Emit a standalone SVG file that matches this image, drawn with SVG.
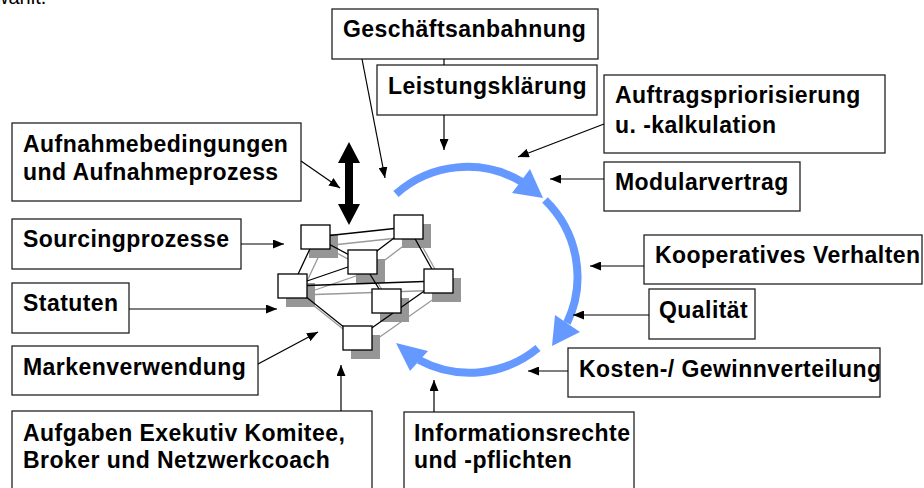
<svg xmlns="http://www.w3.org/2000/svg" width="924" height="488" viewBox="0 0 924 488">
<defs>
<marker id="ah" markerUnits="userSpaceOnUse" markerWidth="11" markerHeight="9" refX="11" refY="4.5" orient="auto">
<path d="M0,0 L11,4.5 L0,9 z" fill="#000"/>
</marker>
<style>
.box{fill:#fff;stroke:#222;stroke-width:1.3}
.t{font-family:"Liberation Sans",Arial,sans-serif;font-weight:bold;font-size:23px;letter-spacing:0.45px;fill:#000}
.c{stroke:#000;stroke-width:1.2;fill:none;marker-end:url(#ah)}
.arc{stroke:#6699ff;stroke-width:8;fill:none}
.ahb{fill:#6699ff}
.sl{stroke:#999;stroke-width:1.3}
.bl{stroke:#000;stroke-width:1.3}
.sh{fill:#969696}
.nd{fill:#fff;stroke:#000;stroke-width:1.3}
</style>
</defs>
<rect width="924" height="488" fill="#fff"/>
<text x="-6" y="4" font-family="Liberation Sans,Arial,sans-serif" font-size="20">wählt.</text>

<g id="geschaeftsanbahnung"><rect class="box" x="332" y="9" width="266" height="50"/><text class="t" x="343" y="37">Geschäftsanbahnung</text></g>
<g id="leistungsklaerung"><rect class="box" x="377" y="65" width="220" height="50"/><text class="t" x="388" y="94">Leistungsklärung</text></g>
<g id="auftragspriorisierung"><rect class="box" x="604" y="75" width="281" height="78"/><text class="t" x="615" y="103">Auftragspriorisierung</text><text class="t" x="615" y="133">u. -kalkulation</text></g>
<g id="modularvertrag"><rect class="box" x="604" y="162" width="196" height="49"/><text class="t" x="615" y="190">Modularvertrag</text></g>
<g id="kooperatives"><rect class="box" x="644" y="235" width="278" height="49"/><text class="t" x="655" y="263">Kooperatives Verhalten</text></g>
<g id="qualitaet"><rect class="box" x="649" y="289" width="106" height="50"/><text class="t" x="659" y="318">Qualität</text></g>
<g id="kosten"><rect class="box" x="568" y="348" width="312" height="49"/><text class="t" x="579" y="377">Kosten-/ Gewinnverteilung</text></g>
<g id="informationsrechte"><rect class="box" x="404" y="412" width="230" height="90"/><text class="t" x="414" y="441">Informationsrechte</text><text class="t" x="414" y="468">und -pflichten</text></g>
<g id="aufgaben"><rect class="box" x="12" y="411" width="360" height="90"/><text class="t" x="23" y="441">Aufgaben Exekutiv Komitee,</text><text class="t" x="23" y="468">Broker und Netzwerkcoach</text></g>
<g id="markenverwendung"><rect class="box" x="12" y="346" width="246" height="49"/><text class="t" x="23" y="375">Markenverwendung</text></g>
<g id="statuten"><rect class="box" x="12" y="283" width="117" height="50"/><text class="t" x="23" y="311">Statuten</text></g>
<g id="sourcingprozesse"><rect class="box" x="12" y="219" width="229" height="50"/><text class="t" x="23" y="247">Sourcingprozesse</text></g>
<g id="aufnahmebedingungen"><rect class="box" x="12" y="123" width="289" height="78"/><text class="t" x="23" y="152">Aufnahmebedingungen</text><text class="t" x="23" y="180">und Aufnahmeprozess</text></g>

<g id="netzwerk">
<g transform="translate(8,9)" class="sl">
<line x1="315.5" y1="237" x2="408.5" y2="227"/>
<line x1="315.5" y1="237" x2="362.5" y2="262"/>
<line x1="315.5" y1="237" x2="292.5" y2="286"/>
<line x1="408.5" y1="227" x2="362.5" y2="262"/>
<line x1="408.5" y1="227" x2="438.5" y2="281"/>
<line x1="292.5" y1="286" x2="362.5" y2="262"/>
<line x1="292.5" y1="286" x2="438.5" y2="281"/>
<line x1="362.5" y1="262" x2="386.5" y2="301"/>
<line x1="292.5" y1="286" x2="357.5" y2="338"/>
<line x1="438.5" y1="281" x2="357.5" y2="338"/>
</g>
<g class="sh">
<rect x="309" y="234" width="29" height="24"/>
<rect x="402" y="224" width="29" height="24"/>
<rect x="356" y="259" width="29" height="24"/>
<rect x="286" y="283" width="29" height="24"/>
<rect x="432" y="278" width="29" height="24"/>
<rect x="380" y="298" width="29" height="24"/>
<rect x="351" y="335" width="29" height="24"/>
</g>
<g class="bl">
<line x1="315.5" y1="237" x2="408.5" y2="227"/>
<line x1="315.5" y1="237" x2="362.5" y2="262"/>
<line x1="315.5" y1="237" x2="292.5" y2="286"/>
<line x1="408.5" y1="227" x2="362.5" y2="262"/>
<line x1="408.5" y1="227" x2="438.5" y2="281"/>
<line x1="292.5" y1="286" x2="362.5" y2="262"/>
<line x1="292.5" y1="286" x2="438.5" y2="281"/>
<line x1="362.5" y1="262" x2="386.5" y2="301"/>
<line x1="292.5" y1="286" x2="357.5" y2="338"/>
<line x1="438.5" y1="281" x2="357.5" y2="338"/>
</g>
<g class="nd">
<rect x="301" y="225" width="29" height="24"/>
<rect x="394" y="215" width="29" height="24"/>
<rect x="348" y="250" width="29" height="24"/>
<rect x="278" y="274" width="29" height="24"/>
<rect x="424" y="269" width="29" height="24"/>
<rect x="372" y="289" width="29" height="24"/>
<rect x="343" y="326" width="29" height="24"/>
</g>
</g>

<g id="kreislauf">
<path class="arc" d="M396,194 A107,107 0 0 1 522,182"/>
<polygon class="ahb" points="512,193 530,169 543,198"/>
<path class="arc" d="M545,200 A107,107 0 0 1 567,323"/>
<polygon class="ahb" points="555,315 580,332 552,346"/>
<path class="arc" d="M538,348 A107,107 0 0 1 419,360"/>
<polygon class="ahb" points="428,351 410,371 396,343"/>
</g>

<g id="connectors">
<line class="c" x1="362" y1="59" x2="385" y2="178"/>
<line x1="444" y1="59" x2="444" y2="65" stroke="#000" stroke-width="1.2"/>
<line class="c" x1="444" y1="115" x2="444" y2="150"/>
<line class="c" x1="604" y1="124" x2="518" y2="157"/>
<line class="c" x1="604" y1="179" x2="550" y2="179"/>
<line class="c" x1="644" y1="266" x2="590" y2="266"/>
<line class="c" x1="649" y1="315" x2="573" y2="315"/>
<line class="c" x1="568" y1="371" x2="528" y2="371"/>
<line class="c" x1="434" y1="412" x2="434" y2="380"/>
<line class="c" x1="341" y1="411" x2="341" y2="365"/>
<line class="c" x1="258" y1="364" x2="318" y2="332"/>
<line class="c" x1="129" y1="309" x2="277" y2="309"/>
<line class="c" x1="241" y1="244" x2="284" y2="244"/>
<line class="c" x1="301" y1="161" x2="340" y2="188"/>
<polygon points="349,142 360,163 353,163 353,204 360,204 349,225 338,204 345,204 345,163 338,163" fill="#000"/>
</g>
</svg>
